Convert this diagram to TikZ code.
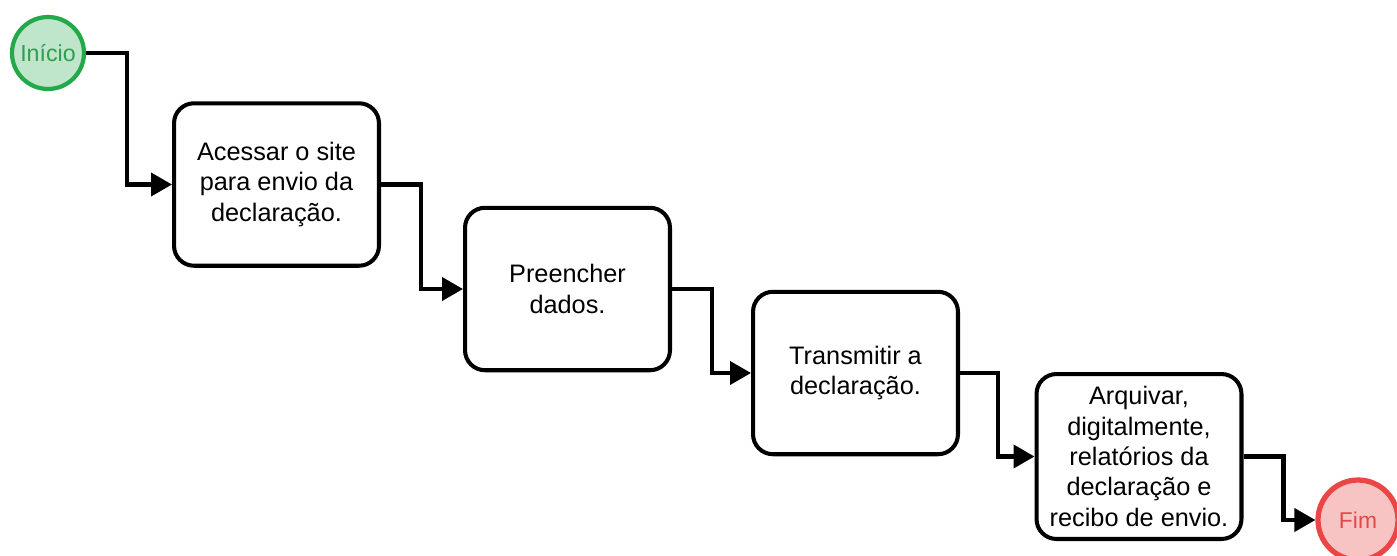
\documentclass[tikz,border=0pt]{standalone}
\usepackage{fontspec}
\setmainfont{Liberation Sans}
\usetikzlibrary{arrows.meta}
\definecolor{startline}{HTML}{23A84A}
\definecolor{startfill}{HTML}{BFE5CB}
\definecolor{starttext}{HTML}{2E9E50}
\definecolor{endline}{HTML}{EB4646}
\definecolor{endfill}{HTML}{F8C3C3}
\definecolor{endtext}{HTML}{E04A4A}
\tikzset{
  stepbox/.style={draw=black, line width=2.3pt, rounded corners=0.4cm, fill=white,
    minimum width=4.1cm, minimum height=3.25cm, align=center,
    font=\fontsize{14.4}{17.3}\selectfont, inner sep=2pt},
  startev/.style={circle, draw=startline, fill=startfill, line width=2.4pt,
    minimum size=1.44cm, inner sep=0pt, text=starttext, font=\fontsize{13.2}{15}\selectfont},
  endev/.style={circle, draw=endline, fill=endfill, line width=3pt,
    minimum size=1.6cm, inner sep=0pt, text=endtext, font=\fontsize{13}{15}\selectfont},
  flow/.style={draw=black, line width=2.3pt, -{Triangle[length=0.42cm, width=0.46cm]}}
}
\begin{document}
\begin{tikzpicture}[x=0.02cm, y=-0.02cm]
  \useasboundingbox (0,0) rectangle (1397,555);
  \begin{scope}
    \clip (0,0) rectangle (1397,555);
    \node[startev] (ini) at (48,53) {Início};
    \node[stepbox] (s1) at (276.5,184.5) {Acessar o site\\para envio da\\declaração.};
    \node[stepbox] (s2) at (567.5,289) {Preencher\\dados.};
    \node[stepbox] (s3) at (855.5,373) {Transmitir a\\declaração.};
    \node[stepbox, minimum height=3.3cm] (s4) at (1139,456.5) {Arquivar,\\digitalmente,\\relatórios da\\declaração e\\recibo de envio.};
    \node[endev] (fim) at (1358,520) {Fim};

    % orthogonal connectors between the steps
    \draw[flow] (ini.east) -- ++(41,0) |- (s1.west);
    \draw[flow] (s1.east) -- ++(40,0) |- (s2.west);
    \draw[flow] (s2.east) -- ++(40,0) |- (s3.west);
    \draw[flow] (s3.east) -- ++(38,0) |- (s4.west);
    \draw[flow] (s4.east) -- ++(40,0) |- (fim.west);
  \end{scope}
\end{tikzpicture}
\end{document}
